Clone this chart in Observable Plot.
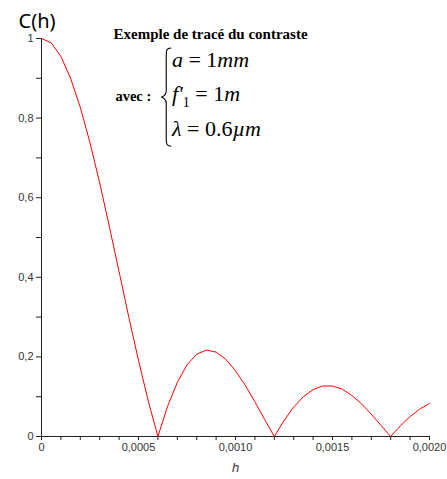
<!DOCTYPE html>
<html>
<head>
<meta charset="utf-8">
<script src="https://cdn.jsdelivr.net/npm/d3@7"></script>
<script src="https://cdn.jsdelivr.net/npm/@observablehq/plot@0.6"></script>
<style>
  html, body { margin: 0; padding: 0; background: #fff; }
  #chart svg { display: block; }
</style>
</head>
<body>
<div id="chart"></div>
<script>
// ---- data ----
const hValues = [0, 0.00005, 0.0001, 0.00015, 0.0002, 0.00025, 0.0003, 0.00035, 0.0004, 0.00045,
  0.0005, 0.00055, 0.0006, 0.00065, 0.0007, 0.00075, 0.0008, 0.00085, 0.0009, 0.00095,
  0.001, 0.00105, 0.0011, 0.00115, 0.0012, 0.00125, 0.0013, 0.00135, 0.0014, 0.00145,
  0.0015, 0.00155, 0.0016, 0.00165, 0.0017, 0.00175, 0.0018, 0.00185, 0.0019, 0.00195, 0.002];
const cValues = [1, 0.989, 0.955, 0.900, 0.827, 0.738, 0.637, 0.527, 0.414, 0.300,
  0.191, 0.090, 0, 0.076, 0.136, 0.180, 0.207, 0.217, 0.212, 0.194,
  0.165, 0.129, 0.087, 0.043, 0, 0.040, 0.074, 0.100, 0.118, 0.127,
  0.127, 0.119, 0.103, 0.082, 0.056, 0.028, 0, 0.027, 0.050, 0.069, 0.083];

const xTickValues = [0, 0.0001, 0.0002, 0.0003, 0.0004, 0.0005, 0.0006, 0.0007, 0.0008, 0.0009,
  0.001, 0.0011, 0.0012, 0.0013, 0.0014, 0.0015, 0.0016, 0.0017, 0.0018, 0.0019, 0.002];
const xTickLabels = ["0", "", "", "", "", "0,0005", "", "", "", "",
  "0,0010", "", "", "", "", "0,0015", "", "", "", "", "0,0020"];
const yTickValues = [0, 0.1, 0.2, 0.3, 0.4, 0.5, 0.6, 0.7, 0.8, 0.9, 1];
const yTickLabels = ["0", "", "0,2", "", "0,4", "", "0,6", "", "0,8", "", "1"];

const yTitle = "C(h)";
const xTitle = "h";
const noteTitle = "Exemple de tracé du contraste";
const noteWith = "avec :";
const eqLines = ["a = 1mm", "f'_1 = 1m", "λ = 0.6µm"];

// annotation anchors in data units
const noteTitlePos = {h: 0.000371, c: 1.0};
const noteWithPos = {h: 0.000381, c: 0.842};
const eqPos = {h: 0.000675, c: [0.927, 0.842, 0.754]};
const bracePos = {h: 0.000625, top: 0.975, bottom: 0.728};

const data = hValues.map((h, i) => ({h, c: cValues[i]}));

const tickFont = "'Liberation Sans Narrow', 'Liberation Sans', sans-serif";
const serifFont = "'Liberation Serif', 'Times New Roman', serif";

function equationMark(index, scales) {
  const g = d3.create("svg:g");
  // brace
  const bx = scales.x(bracePos.h);
  const yt = scales.y(bracePos.top), yb = scales.y(bracePos.bottom);
  const ym = (yt + yb) / 2;
  const sx = bx + 4, tipx = bx - 1, endx = bx + 9;
  const p = `M${endx},${yt} C${sx},${yt} ${sx},${yt + 3} ${sx},${yt + 8}
    L${sx},${ym - 6} C${sx},${ym - 2} ${tipx + 1},${ym} ${tipx},${ym}
    C${tipx + 1},${ym} ${sx},${ym + 2} ${sx},${ym + 6}
    L${sx},${yb - 8} C${sx},${yb - 3} ${sx},${yb} ${endx},${yb}`;
  g.append("path").attr("d", p).attr("fill", "none").attr("stroke", "#000").attr("stroke-width", 1.1);
  // equations
  const x0 = scales.x(eqPos.h);
  eqLines.forEach((line, k) => {
    const t = g.append("text")
      .attr("x", x0).attr("y", scales.y(eqPos.c[k]))
      .attr("text-anchor", "start")
      .style("font-family", serifFont)
      .style("font-size", "22px").attr("fill", "#000");
    const re = /_(\d)|([A-Za-zλµ']+)|([^A-Za-zλµ'_]+)/g;
    let m, sub = false;
    while ((m = re.exec(line))) {
      if (m[1]) {
        t.append("tspan").style("font-size", "14px").attr("dy", 6).style("font-style", "normal").text(m[1]);
        sub = true;
      } else {
        const ts = t.append("tspan").style("font-style", m[2] ? "italic" : "normal").text(m[2] || m[3]);
        if (sub) { ts.attr("dy", -6); sub = false; }
      }
    }
  });
  return g.node();
}

const chart = Plot.plot({
  width: 447,
  height: 479,
  marginLeft: 41,
  marginRight: 18,
  marginTop: 38,
  marginBottom: 43,
  style: {background: "#fff", overflow: "visible"},
  x: {domain: [0, 0.002]},
  y: {domain: [0, 1]},
  marks: [
    Plot.axisX({ticks: xTickValues, tickFormat: d => xTickLabels[xTickValues.indexOf(d)],
      tickSize: 4, tickPadding: 3, fontSize: 11, fontFamily: tickFont, stroke: "#222", color: "#333", label: null}),
    Plot.axisY({ticks: yTickValues, tickFormat: d => yTickLabels[yTickValues.indexOf(d)],
      tickSize: 5, tickPadding: 3, fontSize: 11, fontFamily: tickFont, stroke: "#222", color: "#333", label: null}),
    Plot.ruleY([0], {stroke: "#222"}),
    Plot.ruleX([0], {stroke: "#222"}),
    Plot.line(data, {x: "h", y: "c", stroke: "#ff0000", strokeWidth: 1}),
    Plot.text([yTitle], {frameAnchor: "top-left", dx: -23, dy: -11, lineAnchor: "bottom", textAnchor: "start",
      fontSize: 20, fontFamily: "'Noto Sans', sans-serif", fill: "#000"}),
    Plot.text([xTitle], {frameAnchor: "bottom", dy: 35, lineAnchor: "bottom", fontSize: 13, fontStyle: "italic",
      fontFamily: "'Liberation Sans', sans-serif", fill: "#333"}),
    Plot.text([noteTitle], {x: () => noteTitlePos.h, y: () => noteTitlePos.c, lineAnchor: "bottom", textAnchor: "start",
      fontSize: 15, fontWeight: "bold", fontFamily: serifFont, fill: "#000"}),
    Plot.text([noteWith], {x: () => noteWithPos.h, y: () => noteWithPos.c, lineAnchor: "bottom", textAnchor: "start",
      fontSize: 14.5, fontWeight: "bold", fontFamily: serifFont, fill: "#000"}),
    equationMark
  ]
});
document.getElementById("chart").append(chart);
</script>
</body>
</html>
